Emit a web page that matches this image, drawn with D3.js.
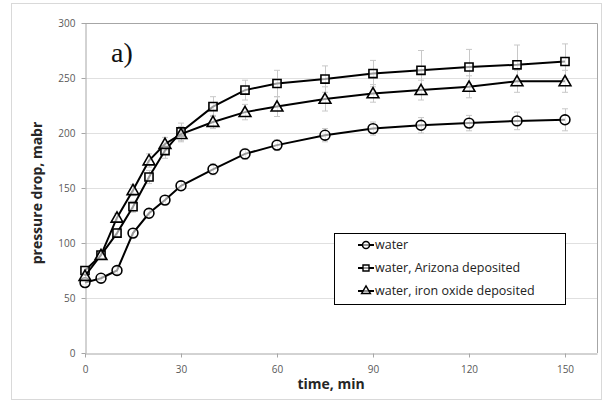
<!DOCTYPE html>
<html>
<head>
<meta charset="utf-8">
<script src="https://cdn.jsdelivr.net/npm/d3@7"></script>
<style>
  body { margin: 0; background: #fff; }
  text { font-family: "Open Sans", sans-serif; }
</style>
</head>
<body>
<div id="chart"></div>
<script>
const times = [0, 5, 10, 15, 20, 25, 30, 40, 50, 60, 75, 90, 105, 120, 135, 150];

const water     = [64, 68, 75, 109, 127, 139, 152, 167, 181, 189, 198, 204, 207, 209, 211, 212];
const arizona   = [75, 89, 109, 133, 160, 184, 201, 224, 239, 245, 249, 254, 257, 260, 262, 265];
const ironOxide = [70, 89, 123, 148, 175, 190, 199, 210, 219, 224, 231, 236, 239, 242, 247, 247];

const waterErr     = [2, 2, 3, 4, 4, 4, 4, 5, 5, 5, 6, 6, 7, 7, 8, 10];
const arizonaErr   = [3, 3, 4, 5, 6, 7, 8, 9, 9, 12, 12, 12, 18, 16, 18, 16];
const ironOxideErr = [3, 3, 4, 5, 6, 6, 7, 6, 7, 9, 11, 8, 9, 10, 10, 10];

const xTicks = [0, 30, 60, 90, 120, 150];
const yTicks = [0, 50, 100, 150, 200, 250, 300];

const seriesNames = ['water', 'water, Arizona deposited', 'water, iron oxide deposited'];
const seriesShapes = ['circle', 'square', 'triangle'];

const width = 602, height = 400;
const svg = d3.select('#chart').append('svg')
  .attr('width', width)
  .attr('height', height);

// outer chart frame
svg.append('rect')
  .attr('x', 11.5).attr('y', 3.5)
  .attr('width', 590).attr('height', 396)
  .attr('fill', 'none')
  .attr('stroke', '#d9d9d9');

const x = d3.scaleLinear().domain([0, 160]).range([85, 597]);
const y = d3.scaleLinear().domain([0, 300]).range([353, 23]);

// gridlines
svg.append('g')
  .selectAll('line')
  .data(yTicks.filter(d => d > 0 && d < 300))
  .enter().append('line')
  .attr('x1', x(0)).attr('x2', x(160))
  .attr('y1', d => Math.round(y(d)) + 0.5)
  .attr('y2', d => Math.round(y(d)) + 0.5)
  .attr('stroke', '#e0e0e0');

// plot frame top/right
svg.append('path')
  .attr('d', `M${x(0)},${y(300) + 0.5}H${x(160) + 0.5}V${y(0)}`)
  .attr('fill', 'none')
  .attr('stroke', '#a6a6a6');

const xAxis = svg.append('g')
  .attr('transform', `translate(0,${y(0) + 0.5})`)
  .call(d3.axisBottom(x).tickValues(xTicks).tickSize(4).tickPadding(6).tickSizeOuter(0));
const yAxis = svg.append('g')
  .attr('transform', `translate(${x(0) + 0.5},0)`)
  .call(d3.axisLeft(y).tickValues(yTicks).tickSize(4).tickPadding(6).tickSizeOuter(0));

[xAxis, yAxis].forEach(a => {
  a.select('.domain').attr('stroke', '#a6a6a6');
  a.selectAll('.tick line').attr('stroke', '#a6a6a6');
  a.selectAll('.tick text')
    .attr('fill', '#595959')
    .style('font-size', '10px')
    .style('font-family', '"Open Sans", sans-serif');
});
xAxis.selectAll('.tick text').attr('dy', '0.9em');

// axis titles
svg.append('text')
  .attr('x', 331).attr('y', 389)
  .attr('text-anchor', 'middle')
  .attr('font-size', 14)
  .attr('font-weight', 700)
  .attr('fill', '#262626')
  .text('time, min');

svg.append('text')
  .attr('transform', 'translate(42,193) rotate(-90)')
  .attr('text-anchor', 'middle')
  .attr('font-size', 14)
  .attr('font-weight', 700)
  .attr('fill', '#262626')
  .text('pressure drop, mabr');

// panel label
svg.append('text')
  .attr('x', 111).attr('y', 62)
  .style('font-family', '"Liberation Serif", serif')
  .attr('font-size', 28)
  .attr('fill', '#111')
  .text('a)');

const allSeries = [
  { values: water, err: waterErr, shape: 'circle' },
  { values: arizona, err: arizonaErr, shape: 'square' },
  { values: ironOxide, err: ironOxideErr, shape: 'triangle' }
];

function symbolPath(shape, s) {
  if (shape === 'circle') return d3.symbol(d3.symbolCircle, s.circle)();
  if (shape === 'square') return d3.symbol(d3.symbolSquare, s.square)();
  return d3.symbol(d3.symbolTriangle, s.triangle)();
}
const bigSym = { circle: 76, square: 66, triangle: 60 };
const smallSym = { circle: 40, square: 36, triangle: 34 };

// error bars
allSeries.forEach(sr => {
  const g = svg.append('g').attr('stroke', '#c8c8c8').attr('stroke-width', 1);
  const pts = times.map((t, i) => ({ t, v: sr.values[i], e: sr.err[i] }));
  g.selectAll('line.v').data(pts).enter().append('line')
    .attr('x1', d => Math.round(x(d.t)) + 0.5).attr('x2', d => Math.round(x(d.t)) + 0.5)
    .attr('y1', d => y(d.v - d.e)).attr('y2', d => y(d.v + d.e));
  g.selectAll('line.top').data(pts).enter().append('line')
    .attr('x1', d => x(d.t) - 3).attr('x2', d => x(d.t) + 3)
    .attr('y1', d => y(d.v + d.e)).attr('y2', d => y(d.v + d.e));
  g.selectAll('line.bot').data(pts).enter().append('line')
    .attr('x1', d => x(d.t) - 3).attr('x2', d => x(d.t) + 3)
    .attr('y1', d => y(d.v - d.e)).attr('y2', d => y(d.v - d.e));
});

const line = d3.line().x(d => x(d.t)).y(d => y(d.v));

allSeries.forEach(sr => {
  const pts = times.map((t, i) => ({ t, v: sr.values[i] }));
  svg.append('path')
    .datum(pts)
    .attr('d', line)
    .attr('fill', 'none')
    .attr('stroke', '#000')
    .attr('stroke-width', 2);
  svg.append('g')
    .selectAll('path')
    .data(pts)
    .enter().append('path')
    .attr('d', symbolPath(sr.shape, bigSym))
    .attr('transform', d => `translate(${x(d.t)},${y(d.v) + (sr.shape === 'triangle' ? 1 : 0)})`)
    .attr('fill', '#fff')
    .attr('fill-opacity', 0.6)
    .attr('stroke', '#000')
    .attr('stroke-width', 1.6);
});

// legend
const legend = svg.append('g');
legend.append('rect')
  .attr('x', 334.5).attr('y', 233.5)
  .attr('width', 231).attr('height', 71)
  .attr('fill', '#fff')
  .attr('stroke', '#000');

const items = legend.selectAll('g.item')
  .data(seriesNames)
  .enter().append('g')
  .attr('transform', (d, i) => `translate(0,${245 + i * 23})`);
items.append('line')
  .attr('x1', 358).attr('x2', 374)
  .attr('stroke', '#000').attr('stroke-width', 2);
items.append('path')
  .attr('d', (d, i) => symbolPath(seriesShapes[i], smallSym))
  .attr('transform', 'translate(366,0)')
  .attr('fill', '#fff').attr('fill-opacity', 0.6)
  .attr('stroke', '#000').attr('stroke-width', 1.4);
items.append('text')
  .attr('x', 375).attr('dy', '0.35em')
  .attr('font-size', 12.5)
  .attr('fill', '#222')
  .text(d => d);
</script>
</body>
</html>
